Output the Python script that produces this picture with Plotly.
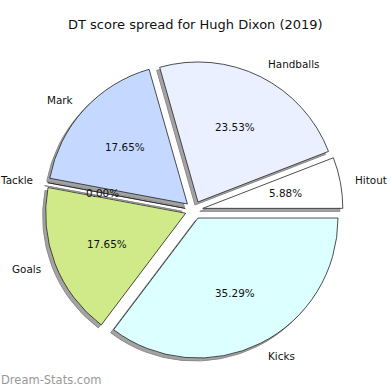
import numpy as np
import plotly.graph_objects as go

# ---- data ----
categories = ["Hitout", "Handballs", "Mark", "Tackle", "Goals", "Kicks"]
values = [1, 4, 3, 0, 3, 6]
colors = ["#ffffff", "#eaf0ff", "#c5d8ff", "#d6eef8", "#d0ea8a", "#dcffff"]
title = "DT score spread for Hugh Dixon (2019)"
watermark = "Dream-Stats.com"

# ---- layout constants (pixels) ----
W = H = 390
CX, CY = 194.0, 210.0      # pie centre (screen px, y down)
R = 140.0                  # pie radius
PULL = 0.064               # explode fraction
SH = 3.0                   # shadow offset px
FONT = "DejaVu Sans"
TXT = "#111111"
FS = 10.4

half = R * (1 + PULL)      # plotly: r = min(w,h) / (2 + 2*maxPull)


def dom(cx, cy):
    return dict(x=[(cx - half) / W, (cx + half) / W],
                y=[(H - cy - half) / H, (H - cy + half) / H])


v = np.array(values, dtype=float)
frac = v / v.sum()
# plotly (counterclockwise) ends the first slice at the rotation angle;
# shift so the first slice starts at 3 o'clock like matplotlib's default
rot = 90 - 360 * frac[0]

pulls = [PULL] * len(values)

fig = go.Figure()
# shadow
fig.add_trace(go.Pie(
    labels=categories, values=values, sort=False, direction="counterclockwise",
    rotation=rot, pull=pulls, domain=dom(CX - SH, CY + SH),
    marker=dict(colors=["#a3a3a3"] * len(values), line=dict(color="#8c8c8c", width=1)),
    textinfo="none", hoverinfo="skip", showlegend=False))
# main pie
fig.add_trace(go.Pie(
    labels=categories, values=values, sort=False, direction="counterclockwise",
    rotation=rot, pull=pulls, domain=dom(CX, CY),
    marker=dict(colors=colors, line=dict(color="#222222", width=0.8)),
    textinfo="none", hoverinfo="label+percent", showlegend=False))

# label / percentage positions derived from the data (matplotlib-style)
start = np.concatenate([[0], np.cumsum(frac)[:-1]]) * 2 * np.pi
mid = start + frac * np.pi
ox = CX + PULL * R * np.cos(mid)
oy = CY - PULL * R * np.sin(mid)
lx = ox + 1.1 * R * np.cos(mid)
ly = oy - 1.1 * R * np.sin(mid)
px = ox + 0.6 * R * np.cos(mid)
py = oy - 0.6 * R * np.sin(mid)
pct = [f"{f*100:.2f}%" for f in frac]

annotations = []
for name, x, y, c in zip(categories, lx, ly, np.cos(mid)):
    annotations.append(dict(text=name, x=x, y=y, xref="x", yref="y", showarrow=False,
                            xanchor="left" if c > 0 else "right", yanchor="middle",
                            borderpad=0,
                            font=dict(family=FONT, size=FS, color=TXT)))
for p, x, y in zip(pct, px, py):
    annotations.append(dict(text=p, x=x, y=y, xref="x", yref="y", showarrow=False,
                            xanchor="center", yanchor="middle", borderpad=0,
                            font=dict(family=FONT, size=FS, color=TXT)))
annotations += [
    dict(text=title, x=195 / W, y=1 - 25 / H, xref="paper", yref="paper",
         showarrow=False, xanchor="center", yanchor="middle",
         font=dict(family=FONT, size=13, color=TXT)),
    dict(text=watermark, x=0, y=1 - 380 / H, xref="paper", yref="paper",
         showarrow=False, xanchor="left", yanchor="middle", borderpad=0,
         font=dict(family=FONT, size=11.5, color="#999999")),
]

fig.update_layout(
    width=W, height=H, margin=dict(l=0, r=0, t=0, b=0),
    paper_bgcolor="white", plot_bgcolor="rgba(0,0,0,0)",
    xaxis=dict(range=[0, W], visible=False, fixedrange=True, domain=[0, 1]),
    yaxis=dict(range=[H, 0], visible=False, fixedrange=True, domain=[0, 1]),
    annotations=annotations,
)

fig.write_html("out.html", config={"displayModeBar": False},
               post_script="document.body.style.margin='0';document.body.style.overflow='hidden';")
